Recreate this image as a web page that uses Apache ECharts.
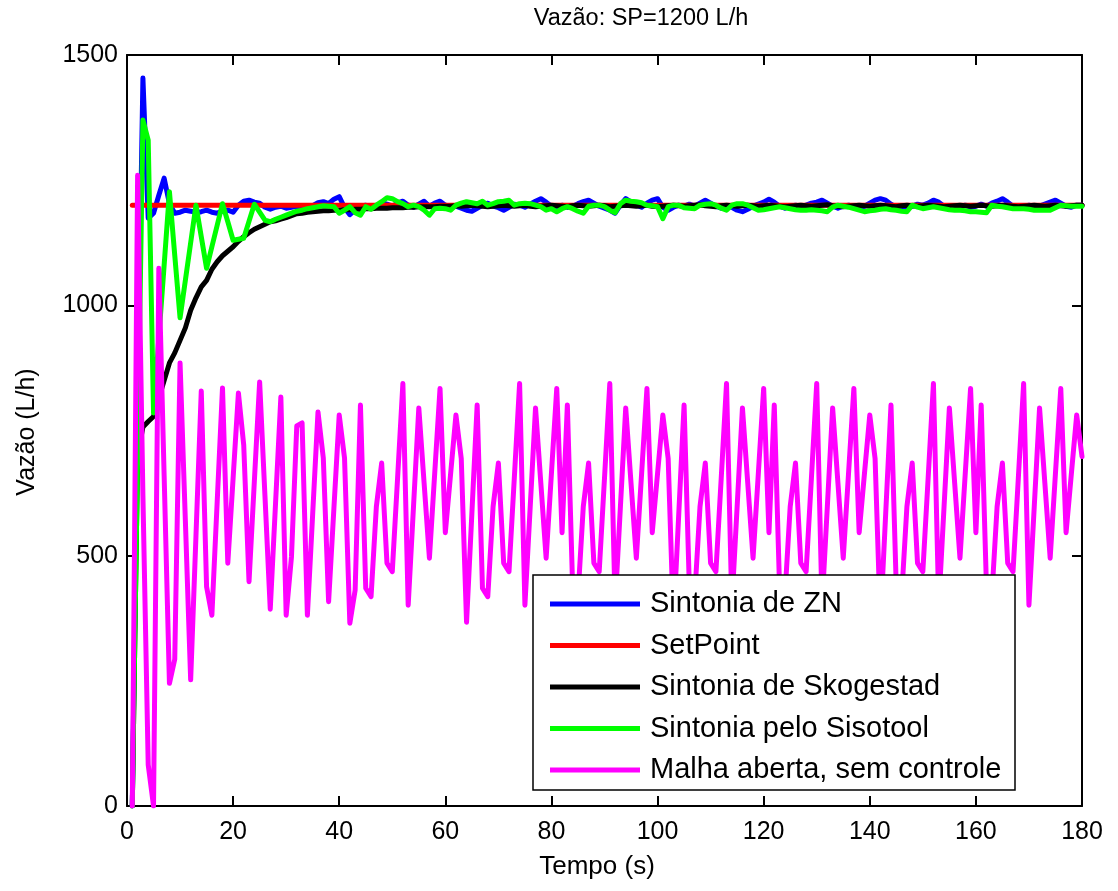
<!DOCTYPE html>
<html>
<head>
<meta charset="utf-8">
<script src="https://cdn.jsdelivr.net/npm/echarts@6/dist/echarts.min.js"></script>
<style>
  html, body { margin: 0; padding: 0; background: #fff; }
  #chart { width: 1118px; height: 891px; }
</style>
</head>
<body>
<div id="chart"></div>
<script>
// Flow response (L/h) sampled once per second, t = 1..180 s
const seriesNames = [
  'Sintonia de ZN',
  'SetPoint',
  'Sintonia de Skogestad',
  'Sintonia pelo Sisotool',
  'Malha aberta, sem controle'
];
const xTicks = [0, 20, 40, 60, 80, 100, 120, 140, 160, 180];
const yTicks = [0, 500, 1000, 1500];
const setPointValue = 1200;
const setPointSpan = [1, 180];

const zieglerNichols = [
  0, 820, 1454, 1174, 1184, 1220, 1254, 1203, 1184, 1186,
  1190, 1188, 1185, 1187, 1190, 1186, 1184, 1188, 1190, 1186,
  1200, 1208, 1210, 1206, 1204, 1196, 1192, 1196, 1198, 1194,
  1196, 1198, 1195, 1197, 1199, 1205, 1207, 1203, 1212, 1217,
  1195, 1181, 1190, 1196, 1200, 1194, 1198, 1205, 1202, 1198,
  1204, 1208, 1200, 1196, 1202, 1208, 1198, 1204, 1208, 1200,
  1196, 1198, 1194, 1190, 1188, 1194, 1200, 1204, 1198, 1195,
  1190, 1196, 1202, 1200, 1196, 1202, 1208, 1213, 1206, 1198,
  1194, 1200, 1196, 1198, 1203, 1207, 1210, 1204, 1198, 1194,
  1190, 1184, 1200, 1213, 1206, 1200, 1196, 1204, 1210, 1213,
  1196, 1190, 1196, 1200, 1198, 1202, 1198, 1204, 1210, 1204,
  1198, 1194, 1198, 1196, 1190, 1187, 1192, 1198, 1202, 1206,
  1212, 1206, 1198, 1194, 1198, 1200, 1196, 1200, 1204, 1206,
  1210, 1204, 1198, 1194, 1198, 1200, 1196, 1194, 1198, 1204,
  1210, 1213, 1210, 1202, 1196, 1198, 1194, 1198, 1202, 1200,
  1204, 1210, 1206, 1198, 1194, 1198, 1196, 1200, 1196, 1198,
  1202, 1198, 1204, 1208, 1213, 1206, 1198, 1194, 1196, 1200,
  1196, 1198, 1202, 1206, 1210, 1204, 1198, 1196, 1200, 1200
];

const skogestad = [
  0, 700, 757, 768, 778, 815, 850, 885, 905, 930,
  955, 990, 1015, 1037, 1050, 1072, 1087, 1099, 1108, 1117,
  1128, 1137, 1145, 1152, 1157, 1162, 1167, 1169, 1172, 1175,
  1179, 1183, 1184, 1186, 1187, 1188, 1189, 1189, 1190, 1190,
  1191, 1191, 1192, 1192, 1193, 1193, 1194, 1194, 1194, 1195,
  1195, 1195, 1196, 1196, 1197, 1197, 1197, 1197, 1198, 1198,
  1198, 1199, 1198, 1199, 1200, 1199, 1198, 1197, 1198, 1199,
  1200, 1199, 1198, 1199, 1200, 1198, 1197, 1198, 1199, 1200,
  1199, 1198, 1197, 1199, 1200, 1199, 1198, 1199, 1200, 1199,
  1197, 1198, 1199, 1200, 1199, 1198, 1199, 1200, 1198, 1197,
  1198, 1199, 1200, 1199, 1198, 1199, 1200, 1201, 1199, 1198,
  1197, 1199, 1200, 1199, 1198, 1199, 1200, 1199, 1198, 1199,
  1200, 1199, 1198, 1197, 1198, 1199, 1200, 1199, 1198, 1199,
  1200, 1201, 1199, 1198, 1197, 1198, 1199, 1200, 1199, 1198,
  1199, 1200, 1199, 1198, 1197, 1199, 1200, 1199, 1198, 1199,
  1200, 1199, 1198, 1197, 1198, 1199, 1200, 1199, 1198, 1199,
  1200, 1199, 1198, 1199, 1200, 1199, 1198, 1197, 1198, 1199,
  1200, 1199, 1198, 1199, 1200, 1199, 1198, 1199, 1200, 1200
];

const sisotool = [
  0, 700, 1370, 1330, 785, 935, 1080, 1227, 1100, 975,
  1050, 1125, 1200, 1137, 1074, 1117, 1160, 1203, 1167, 1130,
  1132, 1134, 1168, 1202, 1186, 1170, 1167, 1172, 1176, 1180,
  1184, 1188, 1190, 1193, 1195, 1197, 1199, 1198, 1197, 1184,
  1190, 1197, 1185, 1180, 1197, 1192, 1200, 1207, 1215, 1213,
  1207, 1203, 1197, 1200, 1197, 1190, 1180, 1193, 1194, 1193,
  1190, 1200, 1204, 1207, 1205, 1203, 1208, 1200, 1203, 1207,
  1208, 1210, 1200, 1203, 1204, 1203, 1200, 1197, 1190, 1193,
  1187, 1193, 1197, 1193, 1188, 1184, 1198, 1200, 1200, 1197,
  1190, 1185, 1203, 1210, 1208, 1207, 1205, 1200, 1199, 1197,
  1173, 1197, 1200, 1200, 1195, 1194, 1193, 1200, 1202, 1203,
  1200, 1194, 1190, 1200, 1203, 1203, 1200, 1195, 1190, 1191,
  1193, 1195, 1197, 1195, 1193, 1191, 1190, 1190, 1191, 1190,
  1189, 1187, 1196, 1200, 1198, 1196, 1193, 1190, 1187, 1189,
  1190, 1192, 1193, 1191, 1190, 1188, 1187, 1200, 1196, 1193,
  1195, 1197, 1195, 1193, 1191, 1190, 1190, 1189, 1187, 1187,
  1186, 1185, 1200, 1198, 1197, 1195, 1193, 1193, 1193, 1192,
  1190, 1190, 1190, 1190, 1195, 1200, 1199, 1198, 1198, 1198
];

const openLoop = [
  0, 1260, 620, 82, 0, 1074, 660, 245, 293, 885,
  570, 252, 540, 829, 438, 381, 608, 835, 485, 655,
  825, 721, 448, 648, 847, 620, 393, 605, 817, 381,
  498, 759, 765, 381, 584, 787, 695, 408, 595, 781,
  695, 365, 431, 801, 435, 418, 598, 685, 485, 468,
  655, 844, 401, 598, 795, 645, 495, 665, 834, 546,
  664, 781, 694, 367, 584, 801, 435, 418, 598, 685,
  485, 468, 655, 844, 401, 598, 795, 645, 495, 665,
  834, 546, 801, 435, 418, 598, 685, 485, 468, 655,
  844, 401, 598, 795, 645, 495, 665, 834, 546, 664,
  781, 694, 367, 584, 801, 435, 418, 598, 685, 485,
  468, 655, 844, 401, 598, 795, 645, 495, 665, 834,
  546, 801, 435, 418, 598, 685, 485, 468, 655, 844,
  401, 598, 795, 645, 495, 665, 834, 546, 664, 781,
  694, 367, 584, 801, 435, 418, 598, 685, 485, 468,
  655, 844, 401, 598, 795, 645, 495, 665, 834, 546,
  801, 435, 418, 598, 685, 485, 468, 655, 844, 401,
  598, 795, 645, 495, 665, 834, 546, 664, 781, 698
];

const seriesColors = ['#0000ff', '#ff0000', '#000000', '#00ff00', '#ff00ff'];
const FONT = "'Liberation Sans', Arial, Helvetica, sans-serif";

// pair each sample with its time in seconds (first sample at t = 1 s)
const toPoints = (values) => values.map((v, i) => [i + 1, v]);

const lineSeries = (name, data, color) => ({
  name: name,
  type: 'line',
  data: data,
  showSymbol: false,
  symbol: 'none',
  clip: true,
  lineStyle: { color: color, width: 5, join: 'round', cap: 'round' },
  itemStyle: { color: color },
  emphasis: { disabled: true }
});

const chart = echarts.init(document.getElementById('chart'), null, { renderer: 'canvas' });

const axisLineStyle = { color: '#000', width: 2 };
const plot = { left: 127, top: 55, width: 955, height: 751 };
const plainNumber = (v) => String(v);

const option = {
  animation: false,
  backgroundColor: '#fff',
  textStyle: { fontFamily: FONT },
  grid: { left: plot.left, top: plot.top, width: plot.width, height: plot.height, containLabel: false },
  xAxis: [
    {
      type: 'value', position: 'bottom',
      min: xTicks[0], max: xTicks[xTicks.length - 1], interval: xTicks[1] - xTicks[0],
      axisLine: { show: true, onZero: false, lineStyle: axisLineStyle },
      axisTick: { show: true, inside: true, length: 10, lineStyle: axisLineStyle },
      axisLabel: { show: true, color: '#000', fontSize: 25, fontFamily: FONT, margin: 14,
                   formatter: plainNumber, showMinLabel: true, showMaxLabel: true },
      splitLine: { show: false }
    },
    {
      type: 'value', position: 'top',
      min: xTicks[0], max: xTicks[xTicks.length - 1], interval: xTicks[1] - xTicks[0],
      axisLine: { show: true, onZero: false, lineStyle: axisLineStyle },
      axisTick: { show: true, inside: true, length: 10, lineStyle: axisLineStyle },
      axisLabel: { show: false },
      splitLine: { show: false }
    }
  ],
  yAxis: [
    {
      type: 'value', position: 'left',
      min: yTicks[0], max: yTicks[yTicks.length - 1], interval: yTicks[1] - yTicks[0],
      axisLine: { show: true, onZero: false, lineStyle: axisLineStyle },
      axisTick: { show: true, inside: true, length: 10, lineStyle: axisLineStyle },
      axisLabel: { show: true, color: '#000', fontSize: 25, fontFamily: FONT, margin: 9,
                   formatter: plainNumber, showMinLabel: true, showMaxLabel: true },
      splitLine: { show: false }
    },
    {
      type: 'value', position: 'right',
      min: yTicks[0], max: yTicks[yTicks.length - 1], interval: yTicks[1] - yTicks[0],
      axisLine: { show: true, onZero: false, lineStyle: axisLineStyle },
      axisTick: { show: true, inside: true, length: 10, lineStyle: axisLineStyle },
      axisLabel: { show: false },
      splitLine: { show: false }
    }
  ],
  legend: {
    data: seriesNames,
    orient: 'vertical',
    left: 550,
    top: 589,
    padding: 0,
    itemWidth: 90,
    itemHeight: 5,
    itemGap: 11.5,
    icon: 'rect',
    selectedMode: false,
    z: 20,
    textStyle: { color: '#000', fontSize: 29, fontFamily: FONT, lineHeight: 30, padding: [0, 0, 0, 5] }
  },
  graphic: [
    {
      type: 'rect', z: 10, silent: true,
      shape: { x: 533, y: 575, width: 482, height: 215 },
      style: { fill: '#fff', stroke: '#000', lineWidth: 1.5 }
    },
    {
      type: 'text', z: 10, silent: true,
      style: { x: 641, y: 19, text: 'Vazão: SP=1200 L/h', fill: '#000',
               font: '23.5px ' + FONT, textAlign: 'center', textVerticalAlign: 'middle' }
    },
    {
      type: 'text', z: 10, silent: true,
      style: { x: 597, y: 867, text: 'Tempo (s)', fill: '#000',
               font: '26px ' + FONT, textAlign: 'center', textVerticalAlign: 'middle' }
    },
    {
      type: 'text', z: 10, silent: true,
      x: 27, y: 432, rotation: Math.PI / 2,
      style: { x: 0, y: 0, text: 'Vazão (L/h)', fill: '#000',
               font: '25px ' + FONT, textAlign: 'center', textVerticalAlign: 'middle' }
    }
  ],
  series: [
    lineSeries(seriesNames[0], toPoints(zieglerNichols), seriesColors[0]),
    lineSeries(seriesNames[1], [[setPointSpan[0], setPointValue], [setPointSpan[1], setPointValue]], seriesColors[1]),
    lineSeries(seriesNames[2], toPoints(skogestad), seriesColors[2]),
    lineSeries(seriesNames[3], toPoints(sisotool), seriesColors[3]),
    lineSeries(seriesNames[4], toPoints(openLoop), seriesColors[4])
  ]
};

chart.setOption(option);
</script>
</body>
</html>
